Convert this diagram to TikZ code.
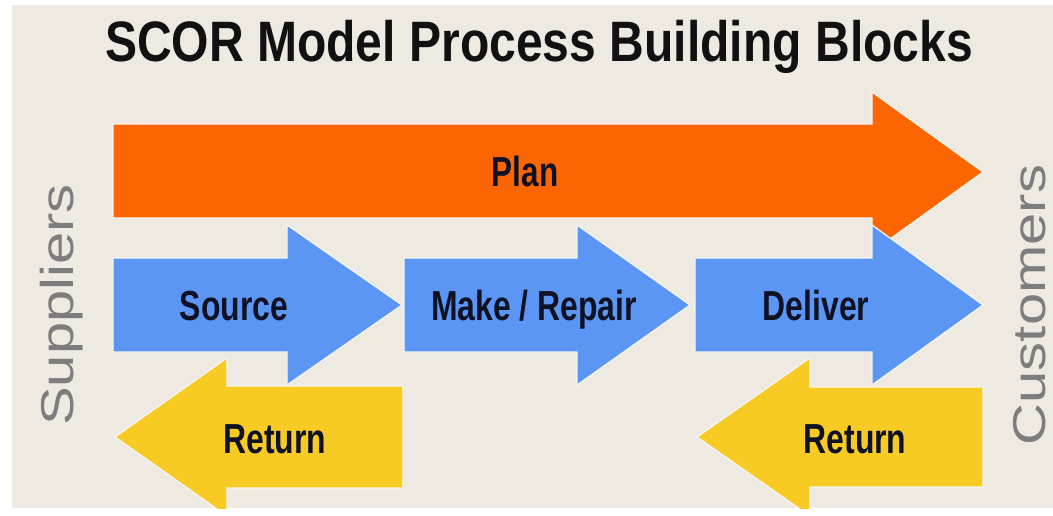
\documentclass[tikz,border=0pt]{standalone}
\usepackage{fontspec}
\setmainfont{Liberation Sans}
\definecolor{bgc}{RGB}{238,234,225}
\definecolor{plancol}{RGB}{252,102,2}
\definecolor{bluecol}{RGB}{92,150,245}
\definecolor{yelcol}{RGB}{248,203,36}
\definecolor{labcol}{RGB}{14,18,36}
\definecolor{sidecol}{RGB}{125,125,125}
\definecolor{titlecol}{RGB}{17,17,17}
\tikzset{
  blk/.style={line width=1.2pt, draw=white!55!bgc, line join=miter},
  lab/.style={anchor=base, text=labcol, font=\fontsize{42}{44}\selectfont\bfseries, inner sep=0pt},
  side/.style={anchor=base, rotate=90, text=sidecol, font=\fontsize{46}{48}\selectfont, inner sep=0pt},
}
\begin{document}
\begin{tikzpicture}[x=1pt,y=-1pt]
\useasboundingbox (0,0) rectangle (1053,516);
\fill[white] (0,0) rectangle (1053,516);
\fill[bgc] (12,5) rectangle (1053,508);
\begin{scope}
  \clip (12,5) rectangle (1053,508);
  % Plan
  \filldraw[blk, fill=plancol] (113,124) -- (872,124) -- (872,92) -- (983,172) -- (872,252) -- (872,218) -- (113,218) -- cycle;
  % Source, Make, Deliver
  \filldraw[blk, fill=bluecol] (113,258) -- (287,258) -- (287,225) -- (402,305) -- (287,385) -- (287,352) -- (113,352) -- cycle;
  \filldraw[blk, fill=bluecol] (404,258) -- (577,258) -- (577,225) -- (690,305) -- (577,385) -- (577,352) -- (404,352) -- cycle;
  \filldraw[blk, fill=bluecol] (695,258) -- (872,258) -- (872,225) -- (983,305) -- (872,385) -- (872,352) -- (695,352) -- cycle;
  % Returns
  \filldraw[blk, fill=yelcol] (403,386) -- (227,386) -- (227,358) -- (115,437) -- (227,516) -- (227,488) -- (403,488) -- cycle;
  \filldraw[blk, fill=yelcol] (983,387) -- (810,387) -- (810,358) -- (697,437) -- (810,516) -- (810,487) -- (983,487) -- cycle;
\end{scope}
\node[anchor=base, text=titlecol, font=\fontsize{57}{60}\selectfont\bfseries, inner sep=0pt] (title) at (539,62) {\scalebox{0.843}[1]{SCOR Model Process Building Blocks}};
\node[lab] (plan) at (525,187) {\scalebox{0.75}[1]{Plan}};
\node[lab] (source) at (234,320) {\scalebox{0.76}[1]{Source}};
\node[lab] (make) at (534,320) {\scalebox{0.76}[1]{Make / Repair}};
\node[lab] (deliver) at (816,320) {\scalebox{0.76}[1]{Deliver}};
\node[lab] (ret1) at (275,453) {\scalebox{0.76}[1]{Return}};
\node[lab] (ret2) at (855,453) {\scalebox{0.76}[1]{Return}};
\node[side] (suppliers) at (73,305) {\scalebox{1.26}[1]{Suppliers}};
\node[side] (customers) at (1045,305) {\scalebox{1.26}[1]{Customers}};
\end{tikzpicture}
\end{document}
